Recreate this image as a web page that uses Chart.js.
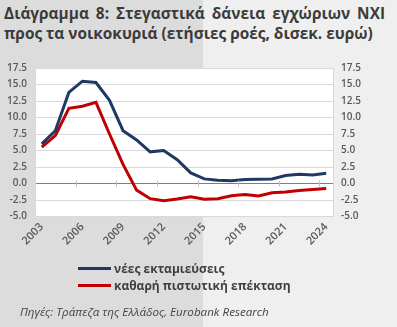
<!DOCTYPE html>
<html>
<head>
<meta charset="utf-8">
<script src="https://cdn.jsdelivr.net/npm/chart.js@4.4.1/dist/chart.umd.min.js"></script>
<style>
  html, body { margin: 0; padding: 0; }
  #wrap {
    position: relative; width: 397px; height: 327px; overflow: hidden;
    background: linear-gradient(to right, #dcdcdc 0, #dcdcdc 203px, #efefef 203px, #efefef 100%);
    font-family: "Open Sans", "Lato", sans-serif; color: #3f3f3f;
  }
  .title {
    position: absolute; left: 4px; white-space: nowrap;
    font-weight: 700; font-size: 15.4px; line-height: 19px; color: #3b3b3b;
  }
  #t1 { top: 4px; width: 381px; text-align: justify; text-align-last: justify; white-space: normal; }
  #t2 { top: 24px; }
  #chart { position: absolute; left: 0; top: 0; }
  .leg { position: absolute; left: 78px; font-weight: 700; font-size: 12px; color: #404040; white-space: nowrap; }
  .leg i { display: inline-block; width: 33px; height: 3px; vertical-align: middle; margin-right: 3px; position: relative; top: -1px; }
  #source { position: absolute; left: 20px; top: 304px; font-style: italic; font-size: 11.6px; color: #444; white-space: nowrap; }
</style>
</head>
<body>
<div id="wrap">
  <div class="title" id="t1">Διάγραμμα 8: Στεγαστικά δάνεια εγχώριων ΝΧΙ</div>
  <div class="title" id="t2">προς τα νοικοκυριά (ετήσιες ροές, δισεκ. ευρώ)</div>
  <canvas id="chart" width="397" height="327"></canvas>
  <div class="leg" style="top:260px"><i style="background:#1f3864"></i>νέες εκταμιεύσεις</div>
  <div class="leg" style="top:277px"><i style="background:#c00000"></i>καθαρή πιστωτική επέκταση</div>
  <div id="source">Πηγές: Τράπεζα της Ελλάδος, Eurobank Research</div>
</div>
<script>
// Years on the horizontal axis
const years = ['2003','2004','2005','2006','2007','2008','2009','2010','2011','2012','2013',
               '2014','2015','2016','2017','2018','2019','2020','2021','2022','2023','2024'];
// New disbursements of housing loans (bn EUR)
const newLoans = [6.0, 8.0, 13.8, 15.5, 15.3, 12.6, 8.0, 6.6, 4.8, 5.0, 3.6,
                  1.6, 0.7, 0.5, 0.4, 0.6, 0.65, 0.7, 1.2, 1.4, 1.3, 1.55];
// Net credit expansion (bn EUR)
const netCredit = [5.5, 7.25, 11.4, 11.7, 12.3, 7.5, 2.9, -1.0, -2.3, -2.6, -2.35,
                   -2.0, -2.4, -2.3, -1.85, -1.65, -1.9, -1.4, -1.3, -1.05, -0.9, -0.75];
// Value axis range and step
const yMin = -5, yMax = 17.5, yStep = 2.5;

const tickFont = { family: '"Open Sans", Lato, sans-serif', size: 10, weight: '600' };
const xTickFont = { family: '"Open Sans", Lato, sans-serif', size: 11, weight: '600' };
const tickColor = '#595959';

// White plot area plus small marks on the zero line every third year
const plotArea = {
  id: 'plotArea',
  beforeDraw(chart) {
    const { ctx, chartArea: a } = chart;
    ctx.save();
    ctx.fillStyle = '#ffffff';
    ctx.fillRect(a.left, a.top, a.right - a.left, a.bottom - a.top);
    ctx.restore();
  },
  afterDatasetsDraw(chart) {
    const { ctx } = chart;
    const x = chart.scales.x, y = chart.scales.y;
    const y0 = y.getPixelForValue(0);
    const half = (x.getPixelForValue(1) - x.getPixelForValue(0)) / 2;
    ctx.save();
    ctx.strokeStyle = '#bfbfbf';
    ctx.lineWidth = 1;
    for (let i = 3; i < years.length; i += 3) {
      const px = Math.round(x.getPixelForValue(i) - half) + 0.5;
      ctx.beginPath(); ctx.moveTo(px, y0 - 3); ctx.lineTo(px, y0 + 3); ctx.stroke();
    }
    ctx.restore();
  }
};

new Chart(document.getElementById('chart'), {
  type: 'line',
  data: {
    labels: years,
    datasets: [
      { label: 'νέες εκταμιεύσεις', data: newLoans, borderColor: '#1f3864',
        borderWidth: 3, pointRadius: 0, tension: 0, yAxisID: 'y' },
      { label: 'καθαρή πιστωτική επέκταση', data: netCredit, borderColor: '#c00000',
        borderWidth: 3, pointRadius: 0, tension: 0, yAxisID: 'y' }
    ]
  },
  options: {
    responsive: false,
    animation: false,
    layout: { padding: { top: 68, left: 0, right: 0, bottom: 0 } },
    plugins: { legend: { display: false }, tooltip: { enabled: false }, title: { display: false } },
    scales: {
      x: {
        offset: true,
        grid: { display: false, drawTicks: false },
        border: { display: true, color: '#d9d9d9' },
        ticks: {
          autoSkip: false, minRotation: 45, maxRotation: 45, padding: 4,
          font: xTickFont, color: tickColor,
          callback: (v, i) => (i % 3 === 0 ? years[i] : null)
        },
        afterFit: s => { s.height = 110.5; }
      },
      y: {
        position: 'left', min: yMin, max: yMax,
        grid: { color: c => (c.tick.value === 0 ? '#7f7f7f' : '#d9d9d9'), drawTicks: false, lineWidth: 1 },
        border: { display: true, color: '#d9d9d9' },
        ticks: { stepSize: yStep, padding: 8, font: tickFont, color: tickColor,
                 callback: v => Number(v).toFixed(1) },
        afterFit: s => { s.width = 35; }
      },
      y2: {
        position: 'right', min: yMin, max: yMax,
        grid: { display: false, drawTicks: false },
        border: { display: true, color: '#d9d9d9' },
        ticks: { stepSize: yStep, padding: 8, font: tickFont, color: tickColor,
                 callback: v => Number(v).toFixed(1) },
        afterFit: s => { s.width = 64; }
      }
    }
  },
  plugins: [plotArea]
});
</script>
</body>
</html>
